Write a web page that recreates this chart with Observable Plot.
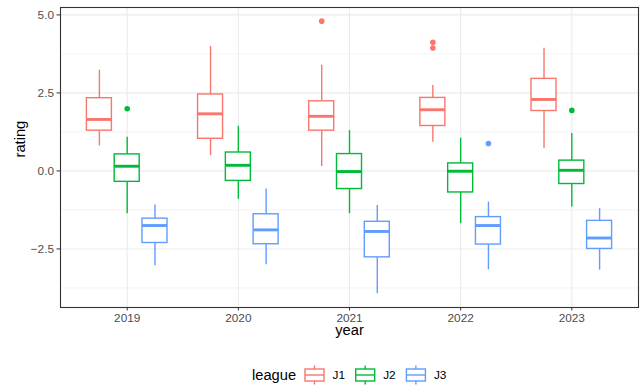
<!DOCTYPE html>
<html>
<head>
<meta charset="utf-8">
<script src="https://cdn.jsdelivr.net/npm/d3@7"></script>
<script src="https://cdn.jsdelivr.net/npm/@observablehq/plot@0.6"></script>
<style>
  html, body { margin: 0; padding: 0; background: #fff; }
  #chart svg { display: block; }
</style>
</head>
<body>
<div id="chart"></div>
<script>
// ---- data ----
const years = [2019, 2020, 2021, 2022, 2023];
const leagues = ["J1", "J2", "J3"];
const leagueColors = ["#F8766D", "#00BA38", "#619CFF"];

const j1Lower  = [0.80, 0.49, 0.14, 0.92, 0.72];
const j1Q1     = [1.29, 1.03, 1.29, 1.44, 1.92];
const j1Median = [1.65, 1.83, 1.75, 1.96, 2.29];
const j1Q3     = [2.33, 2.45, 2.23, 2.34, 2.95];
const j1Upper  = [3.23, 3.99, 3.39, 2.74, 3.93];

const j2Lower  = [-1.37, -0.91, -1.37, -1.69, -1.16];
const j2Q1     = [-0.35, -0.32, -0.58, -0.69, -0.42];
const j2Median = [0.15, 0.18, -0.02, -0.01, 0.02];
const j2Q3     = [0.53, 0.59, 0.54, 0.24, 0.33];
const j2Upper  = [1.08, 1.43, 1.29, 1.05, 1.20];

const j3Lower  = [-3.04, -3.01, -3.94, -3.17, -3.18];
const j3Q1     = [-2.31, -2.35, -2.77, -2.36, -2.50];
const j3Median = [-1.75, -1.89, -1.94, -1.75, -2.15];
const j3Q3     = [-1.53, -1.39, -1.63, -1.48, -1.60];
const j3Upper  = [-1.09, -0.58, -1.11, -1.00, -1.21];

const outlierYears   = [2019, 2021, 2022, 2022, 2022, 2023];
const outlierLeagues = ["J2", "J1", "J1", "J1", "J3", "J2"];
const outlierValues  = [1.99, 4.80, 4.12, 3.94, 0.88, 1.94];

const yTicks = [-2.5, 0, 2.5, 5];
const yMinorTicks = [-3.75, -1.25, 1.25, 3.75];

// ---- build tables ----
const stats = {
  J1: [j1Lower, j1Q1, j1Median, j1Q3, j1Upper],
  J2: [j2Lower, j2Q1, j2Median, j2Q3, j2Upper],
  J3: [j3Lower, j3Q1, j3Median, j3Q3, j3Upper]
};
const dodgeWidth = 0.75, boxPad = 0.9;
const slot = dodgeWidth / leagues.length;
const half = slot * boxPad / 2;
const offset = lg => (leagues.indexOf(lg) - (leagues.length - 1) / 2) * slot;

const rows = [];
leagues.forEach(lg => {
  const [lo, q1, md, q3, up] = stats[lg];
  years.forEach((yr, i) => {
    rows.push({year: yr, league: lg, lower: lo[i], q1: q1[i], median: md[i], q3: q3[i], upper: up[i]});
  });
});
const outliers = outlierValues.map((v, i) => ({year: outlierYears[i], league: outlierLeagues[i], rating: outlierValues[i]}));

const xc = d => d.year + offset(d.league);

// ggplot-like expansion
const allVals = rows.flatMap(d => [d.lower, d.upper]).concat(outlierValues);
const yMin = d3.min(allVals), yMax = d3.max(allVals);
const yExp = (yMax - yMin) * 0.05;
const xDomain = [d3.min(years) - 0.6, d3.max(years) + 0.6];

const font = "'Liberation Sans', Arial, Helvetica, sans-serif";
const lw = 1.4;

const chart = Plot.plot({
  width: 644,
  height: 345,
  marginLeft: 60,
  marginRight: 6,
  marginTop: 7,
  marginBottom: 38,
  style: {fontFamily: font, fontSize: "11.8px", color: "#4D4D4D", background: "#fff"},
  x: {type: "linear", domain: xDomain, ticks: years, tickFormat: d => String(d), tickSize: 3.5, tickPadding: 2.5, label: null},
  y: {domain: [yMin - yExp, yMax + yExp], ticks: yTicks, tickFormat: d3.format(".1f"), tickSize: 3.5, tickPadding: 3, label: null},
  color: {domain: leagues, range: leagueColors},
  marks: [
    Plot.ruleY(yMinorTicks, {stroke: "#EBEBEB", strokeWidth: 0.6}),
    Plot.ruleY(yTicks, {stroke: "#EBEBEB", strokeWidth: 1.1}),
    Plot.ruleX(years, {stroke: "#EBEBEB", strokeWidth: 1.1}),
    Plot.ruleX(rows, {x: xc, y1: "lower", y2: "q1", stroke: "league", strokeWidth: lw}),
    Plot.ruleX(rows, {x: xc, y1: "q3", y2: "upper", stroke: "league", strokeWidth: lw}),
    Plot.rect(rows, {x1: d => xc(d) - half, x2: d => xc(d) + half, y1: "q1", y2: "q3", fill: "white", stroke: "league", strokeWidth: lw}),
    Plot.ruleY(rows, {y: "median", x1: d => xc(d) - half, x2: d => xc(d) + half, stroke: "league", strokeWidth: 2.9}),
    Plot.dot(outliers, {x: xc, y: "rating", fill: "league", r: 2.8, stroke: "none"}),
    Plot.frame({stroke: "#333333", strokeWidth: 1.1}),
    Plot.text(["year"], {frameAnchor: "bottom", dy: 27, text: d => d, fontSize: 14.7, fill: "#000"}),
    Plot.text(["rating"], {frameAnchor: "left", dx: -40, rotate: -90, text: d => d, fontSize: 14.7, fill: "#000"})
  ]
});
document.getElementById("chart").appendChild(chart);

// enlarge axis tick labels to ggplot's 8.8pt and colour them grey30; ticks grey20
const sel = d3.select(chart);
sel.selectAll('g[aria-label*="axis"]').each(function() {
  const g = d3.select(this);
  const lab = g.attr("aria-label") || "";
  if (lab.includes("label") || lab === "x-axis" || lab === "y-axis") {
    g.attr("font-size", "11.8").style("font-size", "11.8px");
    g.selectAll("text").style("font-size", "11.8px").style("fill", "#4D4D4D");
  }
  g.selectAll("path, line").style("stroke", "#333333");
});

// ---- legend (below the plot) ----
const leg = d3.select("#chart").append("svg")
  .attr("width", 644).attr("height", 42)
  .style("display", "block")
  .style("font-family", font);
const cy = 30; // vertical centre of keys
leg.append("text").attr("x", 252).attr("y", cy).attr("dy", "0.35em")
  .attr("font-size", 14.7).attr("fill", "#000").text("league");
leagues.forEach((lg, i) => {
  const cx = 314.5 + i * 50.7;
  const g = leg.append("g").attr("stroke", leagueColors[i]).attr("stroke-width", lw).attr("fill", "white");
  g.append("line").attr("x1", cx).attr("x2", cx).attr("y1", cy - 9.5).attr("y2", cy + 9.5);
  g.append("rect").attr("x", cx - 9.5).attr("y", cy - 6).attr("width", 19).attr("height", 12);
  g.append("line").attr("x1", cx - 9.5).attr("x2", cx + 9.5).attr("y1", cy).attr("y2", cy);
  leg.append("text").attr("x", cx + 18).attr("y", cy).attr("dy", "0.35em")
    .attr("font-size", 11.8).attr("fill", "#000").text(lg);
});
</script>
</body>
</html>
